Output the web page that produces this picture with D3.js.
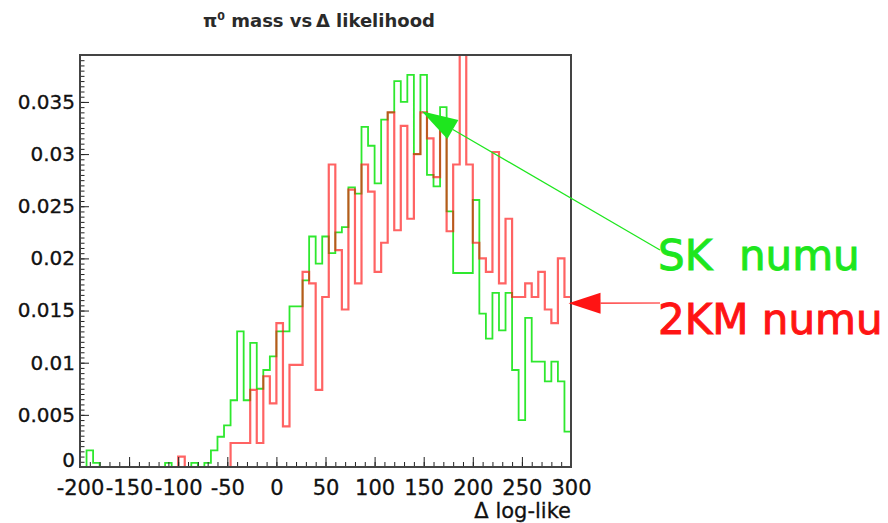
<!DOCTYPE html>
<html>
<head>
<meta charset="utf-8">
<script src="https://cdn.jsdelivr.net/npm/d3@7"></script>
<style>
  body { margin: 0; background: #fff; }
  svg { display: block; }
  text { font-family: "DejaVu Sans", sans-serif; }
</style>
</head>
<body>
<svg width="888" height="523"></svg>
<script>
// histogram range: 75 bins between -200 and 300
const xMin = -200, xMax = 300, nBins = 75;

// SK numu, bin contents (normalised)
const skNumu = [
  0, 0.0016, 0.0004, 0, 0, 0, 0, 0, 0, 0,
  0, 0, 0, 0.0004, 0, 0, 0, 0.0004, 0, 0.0004,
  0.0016, 0.0029, 0.0040, 0.0064, 0.0130, 0.0064, 0.0119, 0.0075, 0.0093, 0.0106,
  0.0130, 0.0130, 0.0154, 0.0154, 0.0179, 0.0221, 0.0195, 0.0221, 0.0205, 0.0225,
  0.0230, 0.0268, 0.0262, 0.0326, 0.0308, 0.0272, 0.0333, 0.0340, 0.0370, 0.0350,
  0.0376, 0.0300, 0.0376, 0.0280, 0.0269, 0.0345, 0.0245, 0.0186, 0.0186, 0.0186,
  0.0256, 0.0147, 0.0123, 0.0167, 0.0131, 0.0167, 0.0093, 0.0045, 0.0143, 0.0101,
  0.0101, 0.0082, 0.0101, 0.0082, 0.0034
];

// 2KM numu, bin contents (normalised)
const kmNumu = [
  0, 0, 0, 0, 0, 0, 0, 0, 0, 0,
  0, 0, 0, 0, 0, 0.0010, 0, 0, 0, 0,
  0, 0, 0, 0.0023, 0.0023, 0.0023, 0.0074, 0.0023, 0.0087, 0.0061,
  0.0138, 0.0039, 0.0098, 0.0098, 0.0187, 0.0176, 0.0074, 0.0163, 0.0290, 0.0208,
  0.0151, 0.0266, 0.0176, 0.0290, 0.0264, 0.0187, 0.0215, 0.0340, 0.0227, 0.0327,
  0.0238, 0.0300, 0.0340, 0.0315, 0.0278, 0.0323, 0.0226, 0.0290, 0.0450, 0.0290,
  0.0215, 0.0200, 0.0187, 0.0302, 0.0176, 0.0238, 0.0163, 0.0163, 0.0176, 0.0163,
  0.0187, 0.0151, 0.0138, 0.0200, 0.0163
];

// axis ticks
const xTickVals = [-200, -150, -100, -50, 0, 50, 100, 150, 200, 250, 300];
const xTickLabels = ["-200", "-150", "-100", "-50", "0", "50", "100", "150", "200", "250", "300"];
const yTickVals = [0, 0.005, 0.01, 0.015, 0.02, 0.025, 0.03, 0.035];
const yTickLabels = ["0", "0.005", "0.01", "0.015", "0.02", "0.025", "0.03", "0.035"];
const yMax = 0.0395;

const svg = d3.select("svg");
const frameL = 80, frameR = 571, frameT = 55, frameB = 467;

let x = d3.scaleLinear().domain([xMin, xMax]).range([frameL, frameR]);
let y = d3.scaleLinear().domain([0, yMax]).range([frameB, frameT]);

const binW = (xMax - xMin) / nBins;

// title
const title = svg.append("text")
    .attr("x", 319).attr("y", 27)
    .attr("text-anchor", "middle")
    .attr("font-size", 18)
    .attr("font-weight", "bold")
    .attr("fill", "#2a2a2a");
title.append("tspan").text("\u03c0");
title.append("tspan").attr("font-size", 11).attr("dy", -7).text("0");
title.append("tspan").attr("dy", 7).text(" mass vs\u2009\u0394 likelihood");

svg.append("defs").append("clipPath").attr("id", "plot")
  .append("rect")
    .attr("x", frameL).attr("y", frameT)
    .attr("width", frameR - frameL).attr("height", frameB - frameT);

// step outline for one histogram
function stepPoints(vals) {
  let pts = vals.map((v, i) => [xMin + i * binW, v]);
  pts.push([xMax, vals[vals.length - 1]]);
  return pts;
}

let line = d3.line()
    .x(d => x(d[0]))
    .y(d => y(d[1]))
    .curve(d3.curveStepAfter);

let plot = svg.append("g").attr("clip-path", "url(#plot)");

plot.append("path")
    .attr("d", line(stepPoints(skNumu)))
    .attr("fill", "none")
    .attr("stroke", "#2ee82e")
    .attr("stroke-width", 1.8);

plot.append("path")
    .attr("d", line(stepPoints(kmNumu)))
    .attr("fill", "none")
    .attr("stroke", "#ff1010")
    .attr("stroke-opacity", 0.65)
    .attr("stroke-width", 2.2);

/*************************************************************************/
// axes, ticks drawn inside the frame like ROOT

let yMinor = d3.range(0, yMax, 0.0005);
svg.append("g")
    .attr("transform", `translate(${frameL},0)`)
    .call(d3.axisLeft(y).tickValues(yMinor).tickSize(-4.5).tickFormat(""))
    .call(g => g.select(".domain").remove())
    .call(g => g.selectAll("line").attr("stroke", "#222"));

svg.append("g")
    .attr("transform", `translate(${frameL},0)`)
    .call(d3.axisLeft(y).tickValues(yTickVals).tickSize(-9).tickPadding(5)
      .tickFormat((d, i) => yTickLabels[i]))
    .call(g => g.select(".domain").remove())
    .call(g => g.selectAll("line").attr("stroke", "#222"))
    .call(g => g.selectAll("text")
      .attr("font-family", "DejaVu Sans")
      .attr("font-size", 20).attr("fill", "#111")
      .attr("stroke", "#111").attr("stroke-width", 0.3)
      .attr("dy", d => d === 0 ? "-0.05em" : "0.32em"));

let xMinor = d3.range(xMin, xMax + 1, 10);
svg.append("g")
    .attr("transform", `translate(0,${frameB})`)
    .call(d3.axisBottom(x).tickValues(xMinor).tickSize(-5).tickFormat(""))
    .call(g => g.select(".domain").remove())
    .call(g => g.selectAll("line").attr("stroke", "#222"));

svg.append("g")
    .attr("transform", `translate(0,${frameB})`)
    .call(d3.axisBottom(x).tickValues(xTickVals).tickSize(-10).tickPadding(13)
      .tickFormat((d, i) => xTickLabels[i]))
    .call(g => g.select(".domain").remove())
    .call(g => g.selectAll("line").attr("stroke", "#222"))
    .call(g => g.selectAll("text")
      .attr("font-family", "DejaVu Sans")
      .attr("font-size", 21).attr("fill", "#111")
      .attr("stroke", "#111").attr("stroke-width", 0.3));

// frame
svg.append("rect")
    .attr("x", frameL).attr("y", frameT)
    .attr("width", frameR - frameL).attr("height", frameB - frameT)
    .attr("fill", "none")
    .attr("stroke", "#444")
    .attr("stroke-width", 2);

svg.append("text")
    .attr("x", frameR).attr("y", 518)
    .attr("text-anchor", "end")
    .attr("font-size", 21)
    .attr("fill", "#111")
    .attr("stroke", "#111").attr("stroke-width", 0.3)
    .text("\u0394 log-like");

/*************************************************************************/
// annotations with arrows

function arrow(x0, y0, x1, y1, color, len, half) {
  let dx = x1 - x0, dy = y1 - y0;
  let d = Math.hypot(dx, dy);
  let ux = dx / d, uy = dy / d;
  let bx = x1 - ux * len, by = y1 - uy * len;
  svg.append("line")
      .attr("x1", x0).attr("y1", y0).attr("x2", bx).attr("y2", by)
      .attr("stroke", color).attr("stroke-width", 1.2);
  svg.append("path")
      .attr("d", `M${x1},${y1}L${bx - uy * half},${by + ux * half}L${bx + uy * half},${by - ux * half}Z`)
      .attr("fill", color);
}

arrow(660, 250, x(148), y(0.0341), "#1ee61e", 36, 11);
arrow(660, 303, x(297.5), y(0.0157), "#ff1414", 32, 10.5);

svg.append("text")
    .attr("x", 658).attr("y", 270)
    .attr("font-size", 42)
    .attr("fill", "#1ee61e")
    .attr("stroke", "#1ee61e").attr("stroke-width", 1)
    .style("white-space", "pre")
    .text("SK  numu");

svg.append("text")
    .attr("x", 658).attr("y", 334)
    .attr("font-size", 42)
    .attr("fill", "#ff1414")
    .attr("stroke", "#ff1414").attr("stroke-width", 1)
    .style("white-space", "pre")
    .text("2KM numu");
</script>
</body>
</html>
